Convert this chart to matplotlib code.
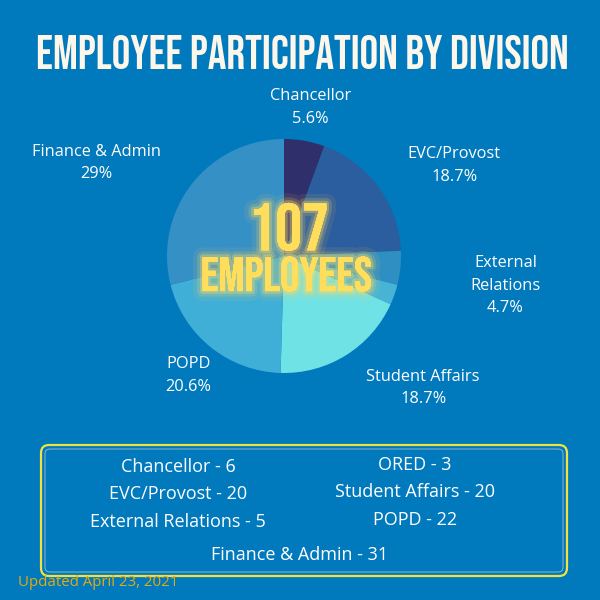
import matplotlib
matplotlib.use("Agg")
import matplotlib.pyplot as plt
import matplotlib.patheffects as pe
from matplotlib import font_manager
from matplotlib.patches import FancyBboxPatch
import numpy as np

# data
divisions = ["Chancellor", "EVC/Provost", "External Relations", "ORED",
             "Student Affairs", "POPD", "Finance & Admin"]
counts = [6, 20, 5, 3, 20, 22, 31]
pie_labels = ["Chancellor", "EVC/Provost", "External\nRelations", "",
              "Student Affairs", "POPD", "Finance & Admin"]
colors = ["#2e2f6b", "#2b5e9e", "#2f8fc2", "#47b3d5", "#6fe2e6", "#40afd8", "#3590c6"]
title = "EMPLOYEE PARTICIPATION BY DIVISION"
updated = "Updated April 23, 2021"

# label layout (alignment / distance / vertical nudge per wedge)
label_ha = ["center", "left", "left", "left", "left", "center", "right"]
label_dist = [1.29, 1.31, 1.6, 1.31, 1.33, 1.31, 1.33]
label_dy = [0, 0, -0.09, 0, 0, 0, -0.02]

BG = "#0079bd"
YELLOW = "#ffde5c"

names = {f.name for f in font_manager.fontManager.ttflist}
cond = "DejaVu Sans"
for cand in ["Bebas Neue", "Oswald", "Liberation Sans Narrow", "Roboto Condensed", "DejaVu Sans"]:
    if cand in names:
        cond = cand
        break
body = "Open Sans" if "Open Sans" in names else "DejaVu Sans"

fig = plt.figure(figsize=(6, 6), dpi=100, facecolor=BG)

# overlay in pixel coords
ov = fig.add_axes([0, 0, 1, 1])
ov.set_xlim(0, 600)
ov.set_ylim(600, 0)
ov.axis("off")

ov.text(302, 52, title, ha="center", va="center", color="#fdf6ea",
        fontsize=33.5, fontweight="bold", family=cond, fontstretch="condensed")

# pie axes
cx, cy, r = 284, 256, 117
ax = fig.add_axes([(cx - r) / 600, (600 - cy - r) / 600, 2 * r / 600, 2 * r / 600])
wedges, _ = ax.pie(counts, colors=colors, startangle=90, counterclock=False,
                   radius=1, wedgeprops=dict(linewidth=0))
ax.set_xlim(-1, 1)
ax.set_ylim(-1, 1)
ax.set_aspect("equal")
ax.axis("off")

total = sum(counts)
for w, lab, n, ha, d, dy in zip(wedges, pie_labels, counts, label_ha, label_dist, label_dy):
    if not lab:
        continue
    ang = np.deg2rad((w.theta1 + w.theta2) / 2)
    pct = round(100 * n / total, 1)
    pct_s = f"{pct:g}%"
    ax.text(d * np.cos(ang), d * np.sin(ang) + dy, f"{lab}\n{pct_s}", ha=ha, va="center",
            multialignment="center", color="white", fontsize=11.8, family=body,
            linespacing=1.55, clip_on=False)

glow = [pe.withStroke(linewidth=14, foreground=(1, 0.8, 0.3, 0.09)),
        pe.withStroke(linewidth=8, foreground=(1, 0.85, 0.35, 0.18)),
        pe.withStroke(linewidth=4, foreground=(1, 0.88, 0.4, 0.32)),
        pe.Normal()]
ax.text(0.04, 0.25, "107", ha="center", va="center", color=YELLOW, fontsize=48,
        fontweight="bold", family=cond, fontstretch="condensed", path_effects=glow)
ax.text(0.02, -0.15, "EMPLOYEES", ha="center", va="center", color=YELLOW, fontsize=35,
        fontweight="bold", family=cond, fontstretch="condensed", path_effects=glow)

# legend box
ov.add_patch(FancyBboxPatch((41, 445), 526, 131, boxstyle="round,pad=0,rounding_size=8",
                            fc="none", ec="#f2e23c", lw=1.6))
ov.add_patch(FancyBboxPatch((45, 449), 518, 123, boxstyle="round,pad=0,rounding_size=5",
                            fc="none", ec="#8fb6cf", lw=0.7))

col_x = [178, 415]
row_y = [467, 494, 522]
for i, (name, n) in enumerate(zip(divisions, counts)):
    s = f"{name} - {n}"
    if i < 3:
        x, y = col_x[0], row_y[i]
    elif i < 6:
        x, y = col_x[1], row_y[i - 3] - 2
    else:
        x, y = 300, 555
    ov.text(x, y, s, ha="center", va="center", color="white", fontsize=13, family=body)

ov.text(18, 582, updated, ha="left", va="center", color="#e3aa12", fontsize=10.8, family=body)

fig.savefig("out.png", dpi=100, facecolor=BG)
